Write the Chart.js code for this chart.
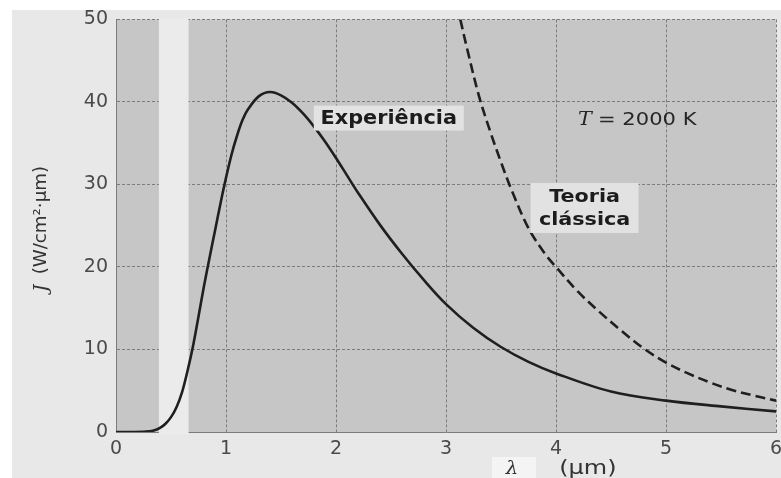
<!DOCTYPE html>
<html>
<head>
<meta charset="utf-8">
<script src="https://cdn.jsdelivr.net/npm/chart.js@4.4.0/dist/chart.umd.min.js"></script>
<style>
	html, body { margin: 0; padding: 0; background: #fff; }
	#wrap { width: 781px; height: 478px; }
</style>
</head>
<body>
<div id="wrap"><canvas id="myChart" width="781" height="478"></canvas></div>
<script>
// values (lambda in um, J in W/cm2.um)
var lambdaExp = [0, 0.15, 0.25, 0.3, 0.35, 0.4, 0.45, 0.5, 0.55, 0.6, 0.65, 0.7, 0.75, 0.8, 0.85, 0.9, 0.95, 1.0, 1.05, 1.1, 1.15, 1.2, 1.3, 1.4, 1.5, 1.6, 1.7, 1.8, 1.9, 2.0, 2.1, 2.2, 2.4, 2.6, 2.8, 3.0, 3.25, 3.5, 3.75, 4.0, 4.5, 5.0, 5.5, 6.0];
var jExp = [0, 0, 0.02, 0.08, 0.2, 0.5, 1.0, 1.8, 3.0, 4.8, 7.4, 10.4, 14.0, 17.7, 21.1, 24.4, 27.7, 30.8, 33.6, 35.9, 37.8, 39.1, 40.7, 41.2, 40.8, 39.9, 38.6, 37.0, 35.2, 33.2, 31.1, 29.0, 25.1, 21.6, 18.4, 15.5, 12.6, 10.3, 8.5, 7.1, 4.9, 3.8, 3.1, 2.5];

var lambdaClassic = [3.13, 3.2, 3.3, 3.4, 3.5, 3.6, 3.75, 3.9, 4.0, 4.2, 4.4, 4.6, 4.8, 5.0, 5.2, 5.4, 5.6, 5.8, 6.0];
var jClassic = [50, 46.0, 40.7, 36.5, 32.7, 29.2, 24.7, 21.6, 20.0, 17.0, 14.5, 12.2, 10.1, 8.4, 7.1, 6.0, 5.1, 4.4, 3.8];

var xTicks = [0, 1, 2, 3, 4, 5, 6];
var yTicks = [0, 10, 20, 30, 40, 50];

// visible light band (no shading)
var visibleBand = [0.39, 0.66];

function toPoints(xs, ys) {
	var pts = [];
	for (var i = 0; i < xs.length; i++) {
		pts.push({ x: xs[i], y: ys[i] });
	}
	return pts;
}

function drawText(ctx, text, px, py, font, sx, align) {
	ctx.save();
	ctx.translate(px, py);
	ctx.scale(sx, 1);
	ctx.font = font;
	ctx.textAlign = align || "center";
	ctx.textBaseline = "middle";
	ctx.fillText(text, 0, 0);
	ctx.restore();
}

var backdrop = {
	id: "backdrop",
	beforeDraw: function(chart) {
		var ctx = chart.ctx;
		var a = chart.chartArea;
		ctx.save();
		ctx.fillStyle = "#ffffff";
		ctx.fillRect(0, 0, chart.width, chart.height);
		ctx.fillStyle = "#e8e8e8";
		ctx.fillRect(12, 10, chart.width - 12, chart.height - 10);
		ctx.fillStyle = "#c6c6c6";
		ctx.fillRect(a.left, a.top, a.right - a.left, a.bottom - a.top);
		ctx.restore();
	},
	beforeDatasetsDraw: function(chart) {
		var ctx = chart.ctx;
		var a = chart.chartArea;
		var xs = chart.scales.x;
		var x0 = xs.getPixelForValue(visibleBand[0]);
		var x1 = xs.getPixelForValue(visibleBand[1]);
		ctx.save();
		ctx.fillStyle = "#ebebeb";
		ctx.fillRect(x0, a.top - 1, x1 - x0, a.bottom - a.top + 3);
		ctx.restore();
	},
	afterDatasetsDraw: function(chart) {
		var ctx = chart.ctx;
		var a = chart.chartArea;
		var xs = chart.scales.x;
		var ys = chart.scales.y;
		ctx.save();

		// Experiência
		var ex = xs.getPixelForValue(2.48), ey = ys.getPixelForValue(38.1);
		ctx.fillStyle = "#e2e2e2";
		ctx.fillRect(ex - 75, ey - 12, 150, 25);
		ctx.fillStyle = "#1c1c1c";
		drawText(ctx, "Experiência", ex, ey + 1, "bold 20px 'DejaVu Sans'", 1.04);

		// T = 2000 K
		var tx = xs.getPixelForValue(4.2), ty = ys.getPixelForValue(37.8);
		ctx.fillStyle = "#262626";
		drawText(ctx, "T", tx, ty, "italic 18px 'DejaVu Serif'", 1.15, "left");
		drawText(ctx, "= 2000 K", tx + 20, ty, "18px 'DejaVu Sans'", 1.17, "left");

		// Teoria clássica
		var cx = xs.getPixelForValue(4.26), cy = ys.getPixelForValue(27.15);
		ctx.fillStyle = "#e2e2e2";
		ctx.fillRect(cx - 54, cy - 25, 108, 50);
		ctx.fillStyle = "#1c1c1c";
		drawText(ctx, "Teoria", cx, cy - 11, "bold 18px 'DejaVu Sans'", 1.15);
		drawText(ctx, "clássica", cx, cy + 12, "bold 18px 'DejaVu Sans'", 1.15);

		// x title
		var lx = xs.getPixelForValue(3.6), ly = a.bottom + 37;
		ctx.fillStyle = "#f4f4f4";
		ctx.fillRect(lx - 20, ly - 12, 44, 24);
		ctx.fillStyle = "#333333";
		drawText(ctx, "λ", lx, ly, "italic 18px 'DejaVu Serif'", 1.1);
		drawText(ctx, "(µm)", xs.getPixelForValue(4.29), ly, "20px 'DejaVu Sans'", 1.2);

		// y title
		var yx = 42, yy = ys.getPixelForValue(24.7);
		ctx.translate(yx, yy);
		ctx.rotate(-Math.PI / 2);
		ctx.fillStyle = "#333333";
		drawText(ctx, "J", -60, 0, "italic 18px 'DejaVu Serif'", 1);
		drawText(ctx, "(W/cm²·µm)", 8, 0, "17px 'DejaVu Sans'", 1.07);
		ctx.restore();
	}
};

new Chart("myChart", {
	type: "line",
	data: {
		datasets: [{
			label: "Experiência",
			data: toPoints(lambdaExp, jExp),
			borderColor: "#1f1f1f",
			borderWidth: 2.6,
			pointRadius: 0,
			tension: 0.35,
			fill: false
		}, {
			label: "Teoria clássica",
			data: toPoints(lambdaClassic, jClassic),
			borderColor: "#1f1f1f",
			borderWidth: 2.6,
			borderDash: [10, 5],
			pointRadius: 0,
			tension: 0.35,
			fill: false
		}]
	},
	options: {
		responsive: false,
		animation: false,
		devicePixelRatio: 1,
		layout: {
			padding: { top: 18, right: 5, left: 0, bottom: 0 }
		},
		plugins: {
			legend: { display: false },
			tooltip: { enabled: false },
			title: { display: false }
		},
		scales: {
			x: {
				type: "linear",
				min: 0,
				max: 6,
				afterBuildTicks: function(scale) {
					scale.ticks = xTicks.map(function(v) { return { value: v }; });
				},
				afterFit: function(scale) {
					scale.height = 46;
					scale.paddingLeft = 0;
					scale.paddingRight = 0;
				},
				grid: {
					color: "#7c7c7c",
					lineWidth: 1,
					drawTicks: false
				},
				border: { display: true, color: "#7c7c7c", dash: [3, 2] },
				ticks: {
					padding: 6,
					color: "#4a4a4a",
					font: { family: "DejaVu Sans", size: 19 }
				}
			},
			y: {
				min: 0,
				max: 50,
				afterBuildTicks: function(scale) {
					scale.ticks = yTicks.map(function(v) { return { value: v }; });
				},
				afterFit: function(scale) {
					scale.width = 116;
				},
				grid: {
					color: "#7c7c7c",
					lineWidth: 1,
					drawTicks: false
				},
				border: { display: true, color: "#7c7c7c", dash: [3, 2] },
				ticks: {
					padding: 8,
					color: "#4a4a4a",
					font: { family: "DejaVu Sans", size: 19 }
				}
			}
		}
	},
	plugins: [backdrop]
});
</script>
</body>
</html>
